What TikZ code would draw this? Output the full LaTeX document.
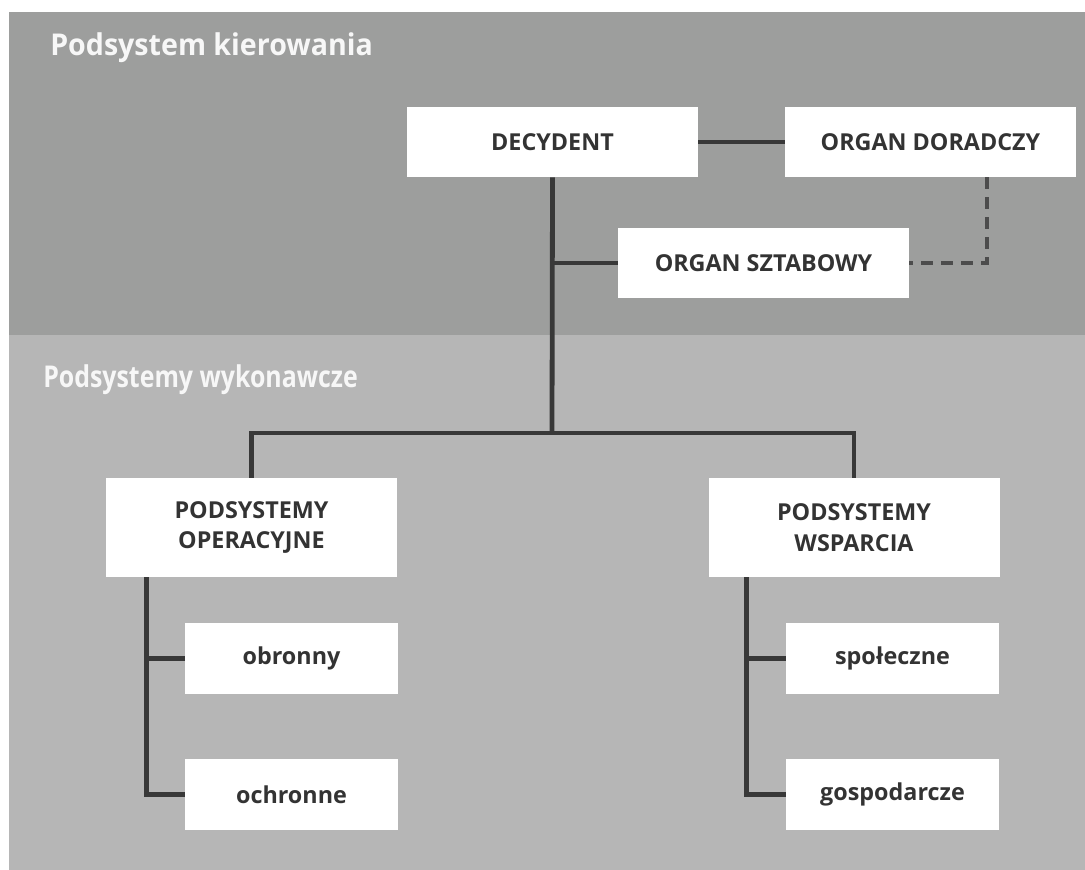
\documentclass[tikz,border=0pt]{standalone}
\usepackage{fontspec}
\setmainfont{Open Sans}
\usetikzlibrary{calc}
\definecolor{topband}{HTML}{9D9E9D}
\definecolor{lowband}{HTML}{B6B6B6}
\definecolor{linec}{HTML}{383838}
\definecolor{textc}{HTML}{333333}
\definecolor{titlec}{HTML}{F7F7F7}
\tikzset{
  box/.style={draw=none, fill=white, inner sep=0pt, align=center, text=textc,
    font=\fontsize{17.5}{23}\selectfont\bfseries},
  bigbox/.style={box, minimum width=218.25pt, minimum height=52.5pt},
  tallbox/.style={box, minimum width=218.25pt, minimum height=74.25pt},
  smallbox/.style={box, minimum width=159.75pt, minimum height=53.25pt},
  conn/.style={draw=linec, line width=3.6pt},
  dashconn/.style={draw=linec!90!white, line width=3pt, dash pattern=on 9pt off 6pt},
  title/.style={anchor=base west, inner sep=0pt, text=titlec,
    font=\fontsize{22.5}{27}\selectfont\bfseries},
}
\begin{document}
\begin{tikzpicture}[x=0.75pt, y=-0.75pt]
\useasboundingbox (0,0) rectangle (1085,870);
\fill[white] (0,0) rectangle (1085,870);
\fill[topband] (9,12) rectangle (1085,335);
\fill[lowband] (9,335) rectangle (1085,870);
\node[title] (t1) at (50,56) {\scalebox{0.953}[1]{Podsystem kierowania}};
\node[title] (t2) at (43,387) {\scalebox{0.83}[1]{Podsystemy wykonawcze}};

\node[bigbox] (dec) at (552.5,142) {DECYDENT};
\node[bigbox] (dor) at (930.5,142) {ORGAN DORADCZY};
\node[bigbox] (szt) at (763.5,263) {ORGAN SZTABOWY};
\node[tallbox] (ope) at (251.5,527.5) {PODSYSTEMY\\OPERACYJNE};
\node[tallbox] (wsp) at (854,527.5) {PODSYSTEMY\\WSPARCIA};
\node[smallbox] (obr) at (291.5,658.5) {obronny};
\node[smallbox] (och) at (291.5,794.5) {ochronne};
\node[smallbox] (spo) at (892.5,658.5) {społeczne};
\node[smallbox] (gos) at (892.5,794.5) {gospodarcze};

\coordinate (j) at (552,433);
\coordinate (lt) at ([xshift=30.75pt]ope.south west);
\coordinate (rt) at ([xshift=28.5pt]wsp.south west);

\draw[conn] (dec.east) -- (dor.west);
\draw[conn] (dec.south) -- (j);
\draw[conn] (szt.west) -- (szt.west -| dec.south);
\draw[conn] (ope.north) |- (j) -| (wsp.north);
\draw[dashconn] ([xshift=42.4pt]dor.south) |- (szt.east);
\draw[conn] (lt) |- (och.west);
\draw[conn] (obr.west) -- (obr.west -| lt);
\draw[conn] (rt) |- (gos.west);
\draw[conn] (spo.west) -- (spo.west -| rt);
\end{tikzpicture}
\end{document}
